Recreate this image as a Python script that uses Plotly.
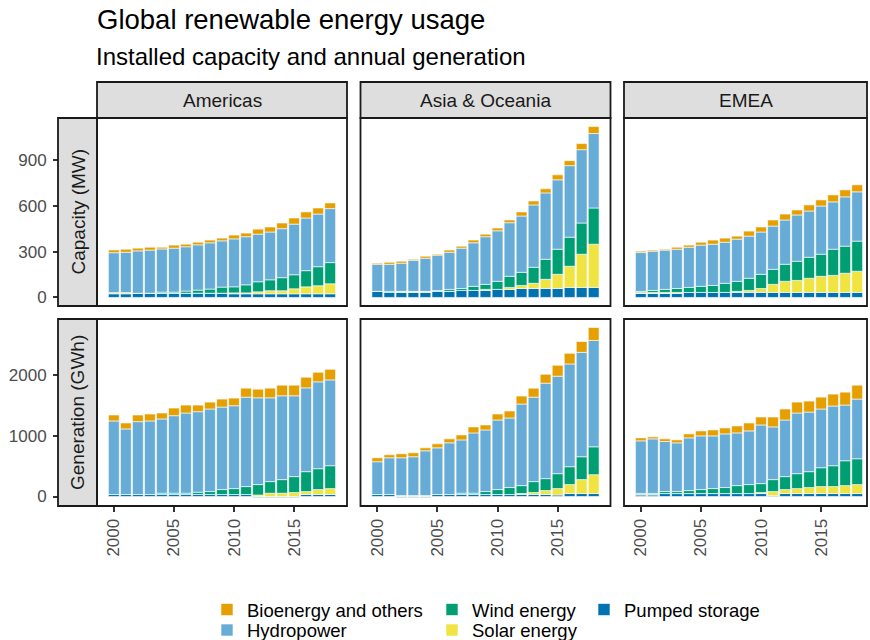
import plotly.graph_objects as go

W, H = 870, 640


def px(x):
    return x / W


def py(y):
    return 1 - y / H


years = list(range(2000, 2019))
regions = ["Americas", "Asia & Oceania", "EMEA"]
measures = ["Capacity (MW)", "Generation (GWh)"]
series_names = ["Pumped storage", "Solar energy", "Wind energy", "Hydropower", "Bioenergy and others"]
series_colors = ["#0072B2", "#F0E442", "#009E73", "#67ACD6", "#E69F00"]

# ---- Capacity (MW) ----
am_cap_pumped = [24, 24, 28, 28, 28, 28, 28, 28, 28, 28, 24, 24, 24, 24, 24, 24, 24, 24, 24]
am_cap_solar = [8, 8, 0, 0, 0, 0, 0, 0, 0, 0, 6, 6, 13, 20, 20, 33, 46, 53, 66]
am_cap_wind = [0, 0, 0, 0, 7, 7, 14, 20, 27, 40, 40, 53, 66, 72, 86, 92, 106, 125, 139]
am_cap_hydro = [262, 265, 278, 283, 284, 289, 291, 298, 304, 304, 315, 316, 313, 314, 322, 333, 346, 346, 355]
am_cap_bio = [18, 20, 18, 19, 11, 20, 17, 17, 18, 18, 25, 24, 33, 33, 37, 40, 40, 40, 37]

as_cap_pumped = [40, 33, 33, 33, 33, 40, 40, 46, 46, 46, 53, 53, 59, 59, 59, 59, 66, 66, 66]
as_cap_solar = [0, 0, 7, 7, 7, 0, 0, 0, 0, 7, 0, 13, 20, 34, 60, 93, 139, 218, 284]
as_cap_wind = [0, 7, 0, 0, 0, 6, 13, 13, 27, 33, 53, 73, 86, 105, 132, 165, 191, 205, 238]
as_cap_hydro = [178, 178, 185, 204, 218, 232, 244, 265, 286, 313, 332, 352, 370, 410, 436, 456, 470, 482, 489]
as_cap_bio = [7, 13, 13, 7, 13, 6, 14, 13, 18, 17, 18, 18, 27, 26, 27, 33, 33, 40, 46]

em_cap_pumped = [26, 26, 26, 26, 33, 33, 33, 33, 33, 33, 33, 33, 33, 33, 33, 33, 33, 33, 33]
em_cap_solar = [7, 7, 7, 7, 0, 0, 0, 0, 7, 13, 26, 53, 73, 79, 93, 106, 112, 126, 139]
em_cap_wind = [7, 13, 20, 26, 33, 40, 46, 60, 66, 80, 93, 99, 112, 126, 138, 145, 172, 178, 198]
em_cap_hydro = [255, 258, 258, 258, 264, 271, 271, 270, 277, 277, 278, 284, 291, 304, 304, 317, 311, 324, 324]
em_cap_bio = [9, 7, 6, 13, 14, 19, 27, 27, 20, 33, 33, 40, 39, 33, 40, 40, 46, 46, 46]

# ---- Generation (GWh) ----
am_gen_pumped = [33, 33, 33, 33, 33, 33, 33, 33, 33, 33, 33, 33, -16, -16, -16, -16, 33, 33, 33]
am_gen_solar = [0, 0, 0, 0, 0, 0, 0, 0, 0, 0, 0, 0, 25, 55, 55, 66, 49, 82, 98]
am_gen_wind = [0, 0, 0, 0, 22, 22, 22, 38, 49, 82, 98, 131, 172, 191, 224, 262, 328, 344, 377]
am_gen_hydro = [1213, 1082, 1202, 1213, 1224, 1278, 1322, 1328, 1361, 1360, 1366, 1475, 1431, 1382, 1382, 1333, 1382, 1432, 1415]
am_gen_bio = [98, 98, 109, 115, 98, 126, 131, 109, 114, 132, 126, 148, 142, 159, 175, 175, 175, 158, 175]

as_gen_pumped = [33, 33, -16, -16, -16, 33, 33, 33, 33, 33, 33, 33, 33, 33, 33, 25, 49, 49, 49]
as_gen_solar = [0, 0, 15, 15, 15, 0, 0, 0, 0, 0, 0, 0, 16, 33, 65, 106, 148, 230, 312]
as_gen_wind = [0, 0, 0, 0, 0, 0, 0, 22, 22, 49, 82, 115, 131, 180, 197, 246, 295, 377, 459]
as_gen_hydro = [541, 606, 624, 641, 739, 770, 852, 879, 994, 1016, 1147, 1147, 1345, 1393, 1574, 1607, 1694, 1721, 1754]
as_gen_bio = [65, 50, 66, 65, 49, 66, 66, 82, 99, 82, 99, 115, 131, 148, 147, 180, 175, 180, 213]

em_gen_pumped = [25, 25, 49, 49, 49, 49, 49, 49, 49, 49, 49, 15, 49, 49, 49, 49, 49, 49, 49]
em_gen_solar = [12, 12, 0, 0, 0, 0, 0, 0, 0, 0, 17, 67, 66, 82, 99, 115, 115, 131, 148]
em_gen_wind = [15, 15, 33, 33, 49, 66, 82, 99, 131, 148, 147, 197, 213, 246, 262, 311, 344, 410, 426]
em_gen_hydro = [866, 899, 825, 803, 869, 885, 869, 885, 869, 885, 967, 869, 934, 1000, 983, 968, 984, 918, 984]
em_gen_bio = [49, 33, 44, 49, 66, 82, 98, 98, 115, 131, 131, 163, 181, 180, 181, 196, 197, 213, 229]

cap_ticks = [0, 300, 600, 900]
gen_ticks = [0, 1000, 2000]
year_ticks = [2000, 2005, 2010, 2015]

panels = {
    (0, 0): [am_cap_pumped, am_cap_solar, am_cap_wind, am_cap_hydro, am_cap_bio],
    (0, 1): [as_cap_pumped, as_cap_solar, as_cap_wind, as_cap_hydro, as_cap_bio],
    (0, 2): [em_cap_pumped, em_cap_solar, em_cap_wind, em_cap_hydro, em_cap_bio],
    (1, 0): [am_gen_pumped, am_gen_solar, am_gen_wind, am_gen_hydro, am_gen_bio],
    (1, 1): [as_gen_pumped, as_gen_solar, as_gen_wind, as_gen_hydro, as_gen_bio],
    (1, 2): [em_gen_pumped, em_gen_solar, em_gen_wind, em_gen_hydro, em_gen_bio],
}
row_ticks = [cap_ticks, gen_ticks]

FONT = "Liberation Sans, Arial, Helvetica, sans-serif"
EDGE = "#1A1A1A"
LW = 1.8

col_px = [(97, 347), (360.5, 610.5), (624, 867)]
row_px = [(118, 306), (319, 506)]
X0 = 1998.6
PX_PER_YEAR = 250 / 20.8

# y ranges like ggplot (5% expansion of stacked data range)
row_ranges = []
for r in range(2):
    tops, bots = [], []
    for c in range(3):
        s = panels[(r, c)]
        for i in range(len(years)):
            tops.append(sum(v[i] for v in s if v[i] > 0))
            bots.append(sum(v[i] for v in s if v[i] < 0))
    hi, lo = max(tops), min(min(bots), 0)
    span = hi - lo
    row_ranges.append([lo - 0.05 * span, hi + 0.05 * span])

legend_of = {
    "Bioenergy and others": ("legend", 207, 610),
    "Hydropower": ("legend2", 207, 630.5),
    "Wind energy": ("legend3", 432, 610),
    "Solar energy": ("legend4", 432, 630.5),
    "Pumped storage": ("legend5", 584, 610),
}

fig = go.Figure()
layout = {}
for (r, c), series in panels.items():
    k = r * 3 + c + 1
    xa = "x" if k == 1 else f"x{k}"
    ya = "y" if k == 1 else f"y{k}"
    for name, color, vals in zip(series_names, series_colors, series):
        fig.add_trace(go.Bar(
            x=years, y=vals, name=name, xaxis=xa, yaxis=ya,
            width=0.9, marker=dict(color=color, line=dict(color="white", width=0.6)),
            legend=legend_of[name][0], showlegend=(k == 1),
        ))
    x0p, x1p = col_px[c]
    y0p, y1p = row_px[r]
    xrange = [X0, X0 + (x1p - x0p) / PX_PER_YEAR]
    xkey = "xaxis" if k == 1 else f"xaxis{k}"
    ykey = "yaxis" if k == 1 else f"yaxis{k}"
    xd = dict(domain=[px(x0p), px(x1p)], anchor=ya, range=xrange, showgrid=False,
              zeroline=False, showline=False, fixedrange=True)
    if r == 1:
        xd.update(tickmode="array", tickvals=year_ticks, ticks="outside", ticklen=5,
                  tickwidth=1.6, tickcolor="#333333", tickangle=-90,
                  tickfont=dict(family=FONT, size=17, color="#4D4D4D"))
    else:
        xd.update(showticklabels=False, ticks="")
    yd = dict(domain=[py(y1p), py(y0p)], range=row_ranges[r], showgrid=False,
              zeroline=False, showline=False, fixedrange=True)
    if c == 0:
        yd.update(anchor="free", position=px(58), side="left", tickmode="array",
                  tickvals=row_ticks[r], ticks="outside", ticklen=5, tickwidth=1.6,
                  tickcolor="#333333", ticklabelstandoff=3,
                  tickfont=dict(family=FONT, size=17, color="#4D4D4D"))
    else:
        yd.update(anchor=xa, showticklabels=False, ticks="")
    layout[xkey] = xd
    layout[ykey] = yd

shapes = []
annotations = []
# top strips
for c, reg in enumerate(regions):
    x0p, x1p = col_px[c]
    shapes.append(dict(type="rect", xref="paper", yref="paper", x0=px(x0p), x1=px(x1p),
                       y0=py(118), y1=py(82), fillcolor="#DEDEDE",
                       line=dict(color=EDGE, width=LW), layer="above"))
    annotations.append(dict(text=reg, x=px((x0p + x1p) / 2), y=py(100), xref="paper", yref="paper",
                            showarrow=False, xanchor="center", yanchor="middle",
                            font=dict(family=FONT, size=19, color="#1A1A1A")))
# left strips
for r, m in enumerate(measures):
    y0p, y1p = row_px[r]
    shapes.append(dict(type="rect", xref="paper", yref="paper", x0=px(58), x1=px(97),
                       y0=py(y1p), y1=py(y0p), fillcolor="#DEDEDE",
                       line=dict(color=EDGE, width=LW), layer="above"))
    annotations.append(dict(text=m, x=px(77.5), y=py((y0p + y1p) / 2), xref="paper", yref="paper",
                            showarrow=False, textangle=-90, xanchor="center", yanchor="middle",
                            font=dict(family=FONT, size=19, color="#1A1A1A")))
# panel frames
for r in range(2):
    for c in range(3):
        x0p, x1p = col_px[c]
        y0p, y1p = row_px[r]
        shapes.append(dict(type="rect", xref="paper", yref="paper", x0=px(x0p), x1=px(x1p),
                           y0=py(y1p), y1=py(y0p), line=dict(color=EDGE, width=LW),
                           fillcolor="rgba(0,0,0,0)", layer="above"))

annotations.append(dict(text="Installed capacity and annual generation", x=px(94), y=py(56),
                        xref="paper", yref="paper", showarrow=False, xanchor="left",
                        yanchor="middle", font=dict(family=FONT, size=24, color="black")))

for name, (lg, lx, ly) in legend_of.items():
    layout[lg] = dict(x=px(lx), y=py(ly), xanchor="left", yanchor="middle",
                      orientation="v", bgcolor="rgba(0,0,0,0)", borderwidth=0,
                      font=dict(family=FONT, size=18.5, color="black"))

fig.update_layout(
    width=W, height=H, margin=dict(l=0, r=0, t=0, b=0, autoexpand=False),
    paper_bgcolor="white", plot_bgcolor="white",
    barmode="relative",
    font=dict(family=FONT, color="black"),
    title=dict(text="Global renewable energy usage", x=px(97), xanchor="left", xref="paper",
               y=py(19), yref="container", yanchor="middle",
               font=dict(family=FONT, size=27.5, color="black")),
    shapes=shapes, annotations=annotations,
    **layout,
)

fig.write_html("out.html")
